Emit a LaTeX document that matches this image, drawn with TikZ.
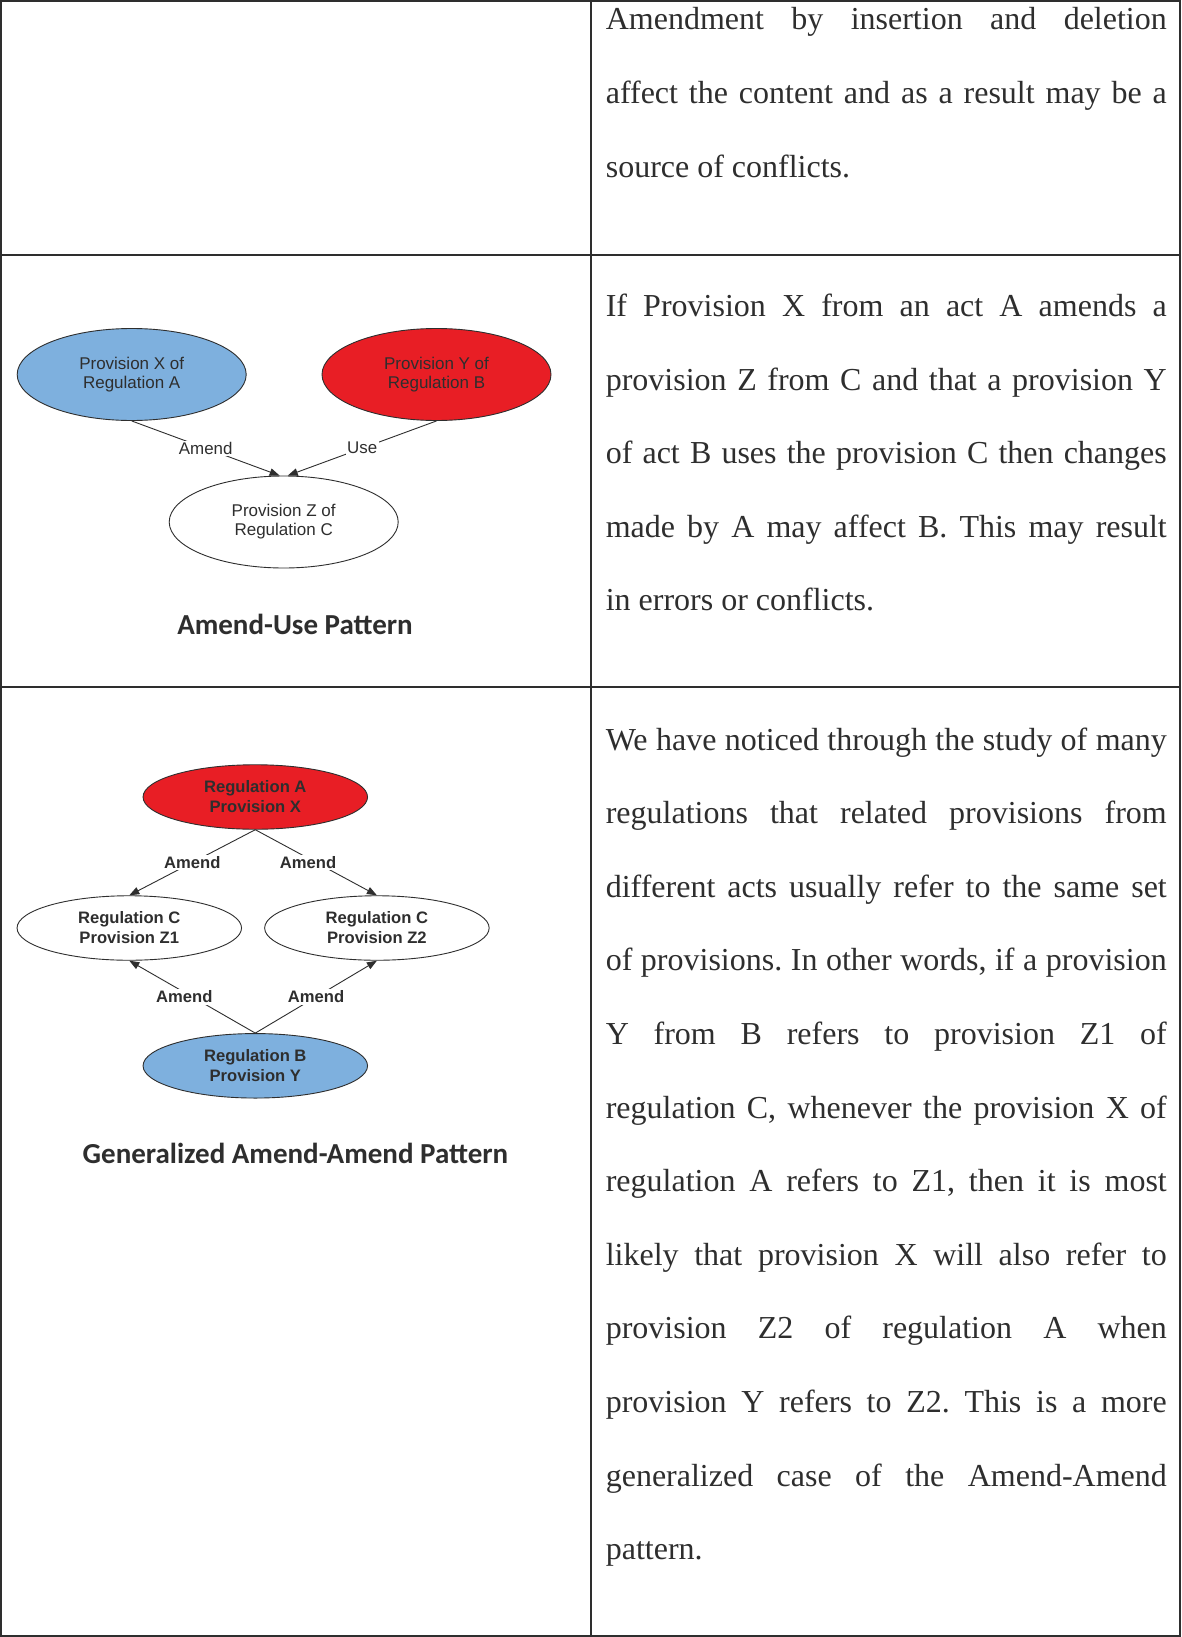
\documentclass[tikz,border=0pt]{standalone}
\usepackage{fontspec}
\setmainfont{Liberation Serif}
\newfontfamily\diagfont{Liberation Sans}
\newfontfamily\titlefont{Carlito}
\usetikzlibrary{shapes.geometric,arrows.meta}
\definecolor{ink}{gray}{0.18}
\definecolor{rulecol}{HTML}{2E2E2E}
\definecolor{provblue}{HTML}{7EB0DE}
\definecolor{provred}{HTML}{E81E25}
% one justified line of the right-hand column
\newcommand\jline[1]{\makebox[561pt][s]{#1}}
\hfuzz=20pt
\frenchspacing

\begin{document}
\begin{tikzpicture}[x=1pt,y=-1pt,
  body/.style={anchor=base west, inner sep=0pt, text=ink,
    font=\fontsize{32}{36.8}\selectfont},
  prov/.style={ellipse, draw=ink, line width=0.9pt, inner sep=0pt,
    align=center, text=ink, minimum width=229pt, minimum height=92pt,
    font=\diagfont\fontsize{17}{19}\selectfont},
  provbold/.style={ellipse, draw=ink, line width=0.9pt, inner sep=0pt,
    align=center, text=ink, minimum width=224.5pt, minimum height=64.5pt,
    font=\diagfont\bfseries\fontsize{16.6}{20}\selectfont},
  link/.style={draw=ink, line width=0.9pt, -{Triangle[length=10pt,width=7.5pt]}},
  lab/.style={fill=white, inner sep=1.5pt, text=ink,
    font=\diagfont\fontsize{16.9}{19}\selectfont},
  labbold/.style={fill=white, inner sep=1.5pt, text=ink,
    font=\diagfont\bfseries\fontsize{16.6}{19}\selectfont},
  caption/.style={anchor=base, inner sep=0pt, text=ink,
    font=\titlefont\bfseries\fontsize{29}{34}\selectfont}
]
\useasboundingbox (0,0) rectangle (1181,1637);
\fill[white] (0,0) rectangle (1181,1637);

% table rules
\draw[rulecol, line width=2pt] (1,1) rectangle (1180,1636);
\draw[rulecol, line width=2pt] (591,1) -- (591,1636);
\draw[rulecol, line width=2pt] (1,255) -- (1180,255);
\draw[rulecol, line width=2pt] (1,687) -- (1180,687);

% ---------- row 1 text ----------
\node[body] (t1a) at (605.6,30)    {\jline{Amendment by insertion and deletion}};
\node[body] (t1b) at (605.6,103.6) {\jline{affect the content and as a result may be a}};
\node[body] (t1c) at (605.6,177.2) {source of conflicts.};

% ---------- row 2: Amend-Use pattern ----------
\node[prov, fill=provblue] (px) at (131.7,374.5) {Provision X of\\Regulation A};
\node[prov, fill=provred]  (py) at (436.5,374.5) {Provision Y of\\Regulation B};
\node[prov, fill=white]    (pz) at (283.7,522)   {Provision Z of\\Regulation C};
\draw[link] (px.south) -- node[lab] {Amend} (pz.95);
\draw[link] (py.south) -- node[lab] {Use} (pz.85);
\node[caption] (cap1) at (295,634) {Amend-Use Pattern};

\node[body] (t2a) at (605.6,316.5) {\jline{If Provision X from an act A amends a}};
\node[body] (t2b) at (605.6,390.1) {\jline{provision Z from C and that a provision Y}};
\node[body] (t2c) at (605.6,463.7) {\jline{of act B uses the provision C then changes}};
\node[body] (t2d) at (605.6,537.3) {\jline{made by A may affect B. This may result}};
\node[body] (t2e) at (605.6,610.9) {in errors or conflicts.};

% ---------- row 3: generalized Amend-Amend pattern ----------
\node[provbold, fill=provred]  (ra) at (255.3,797)    {Regulation A\\Provision X};
\node[provbold, fill=white]    (z1) at (129.3,928)    {Regulation C\\Provision Z1};
\node[provbold, fill=white]    (z2) at (376.9,928)    {Regulation C\\Provision Z2};
\node[provbold, fill=provblue] (rb) at (255.3,1065.8) {Regulation B\\Provision Y};
\draw[link] (ra.south) -- node[labbold] {Amend} (z1.north);
\draw[link] (ra.south) -- node[labbold, xshift=-8pt] {Amend} (z2.north);
\draw[link] (rb.north) -- node[labbold, xshift=-8pt] {Amend} (z1.south);
\draw[link] (rb.north) -- node[labbold] {Amend} (z2.south);
\node[caption] (cap2) at (295.5,1163.5) {Generalized Amend-Amend Pattern};

\node[body] (t3a) at (605.6,750)    {\jline{We have noticed through the study of many}};
\node[body] (t3b) at (605.6,823.6)  {\jline{regulations that related provisions from}};
\node[body] (t3c) at (605.6,897.2)  {\jline{different acts usually refer to the same set}};
\node[body] (t3d) at (605.6,970.8)  {\jline{of provisions. In other words, if a provision}};
\node[body] (t3e) at (605.6,1044.4) {\jline{Y from B refers to provision Z1 of}};
\node[body] (t3f) at (605.6,1118)   {\jline{regulation C, whenever the provision X of}};
\node[body] (t3g) at (605.6,1191.6) {\jline{regulation A refers to Z1, then it is most}};
\node[body] (t3h) at (605.6,1265.2) {\jline{likely that provision X will also refer to}};
\node[body] (t3i) at (605.6,1338.8) {\jline{provision Z2 of regulation A when}};
\node[body] (t3j) at (605.6,1412.4) {\jline{provision Y refers to Z2. This is a more}};
\node[body] (t3k) at (605.6,1486)   {\jline{generalized case of the Amend-Amend}};
\node[body] (t3l) at (605.6,1559.6) {pattern.};
\end{tikzpicture}
\end{document}
